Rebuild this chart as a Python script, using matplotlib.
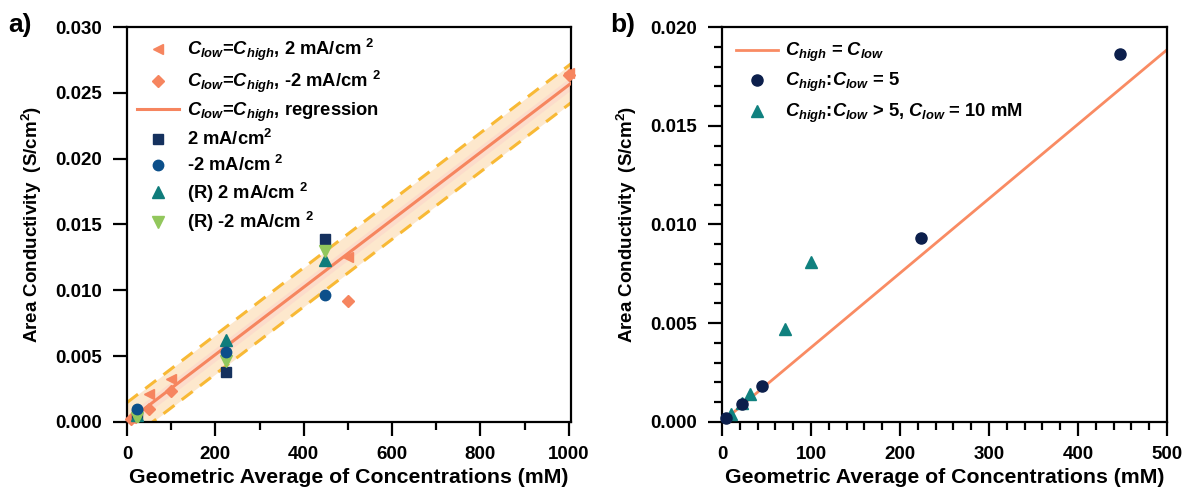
import numpy as np
import matplotlib
matplotlib.use("Agg")
import matplotlib.pyplot as plt
from matplotlib.ticker import MultipleLocator, FormatStrFormatter

plt.rcParams['font.family'] = ['Liberation Sans', 'DejaVu Sans']
plt.rcParams['font.weight'] = 'bold'
plt.rcParams['mathtext.fontset'] = 'custom'
plt.rcParams['mathtext.rm'] = 'Liberation Sans:bold'
plt.rcParams['mathtext.it'] = 'Liberation Sans:bold:italic'
plt.rcParams['mathtext.bf'] = 'Liberation Sans:bold'

# ---------------- Panel a data ----------------
eq_pos_x = [10, 50, 100, 500, 1000]
eq_pos_y = [0.0003, 0.0021, 0.0033, 0.01255, 0.0265]
eq_neg_x = [10, 50, 100, 500, 1000]
eq_neg_y = [0.0002, 0.00096, 0.00238, 0.0092, 0.02637]
reg_slope = 2.56e-5
reg_intercept = 0.0
pred_halfwidth = 0.00148
conf_halfwidth = 0.0005

gm_x = [22.36, 223.6, 447.2]
pos2_y = [0.0006, 0.00378, 0.01388]
neg2_y = [0.00096, 0.00534, 0.00965]
rpos2_y = [0.0005, 0.00623, 0.01231]
rneg2_y = [0.0003, 0.00463, 0.0130]

# ---------------- Panel b data ----------------
line_b_slope = 3.77e-5
ratio5_x = [4.47, 22.36, 44.72, 223.6, 447.2]
ratio5_y = [0.00019, 0.0009, 0.00184, 0.0093, 0.01864]
ratioGT5_x = [10.0, 22.36, 31.62, 70.71, 100.0]
ratioGT5_y = [0.00039, 0.00095, 0.00142, 0.0047, 0.00809]

salmon = '#f6855f'
navy_sq = '#15315e'
blue_c = '#0c4f8a'
teal = '#0f7c7b'
lgreen = '#92c75c'
gold = '#f8b935'
band = '#fde8cd'
inner = '#fcdccb'
navy_b = '#0c1f4c'
teal_b = '#10817f'

fig = plt.figure(figsize=(11.83, 4.92), dpi=100)
axa = fig.add_axes([0.1074, 0.1423, 0.3753, 0.8028])
axb = fig.add_axes([0.6103, 0.1423, 0.3762, 0.8028])

# ---- Panel a ----
xr = np.array([0, 1005])
yr = reg_slope * xr + reg_intercept
axa.fill_between(xr, yr - pred_halfwidth, yr + pred_halfwidth, color=band, lw=0, zorder=1)
axa.fill_between(xr, yr - conf_halfwidth, yr + conf_halfwidth, color=inner, lw=0, zorder=1)
axa.plot(xr, yr + pred_halfwidth, ls=(0, (4.5, 3)), color=gold, lw=2.2, zorder=2)
axa.plot(xr, yr - pred_halfwidth, ls=(0, (4.5, 3)), color=gold, lw=2.2, zorder=2)

h1, = axa.plot(eq_pos_x, eq_pos_y, ls='none', marker='<', ms=7.5, color=salmon, zorder=4, clip_on=False)
h2, = axa.plot(eq_neg_x, eq_neg_y, ls='none', marker='D', ms=6.5, color=salmon, zorder=4, clip_on=False)
h3, = axa.plot(xr, yr, color=salmon, lw=2.2, zorder=3)
h4, = axa.plot(gm_x, pos2_y, ls='none', marker='s', ms=7, color=navy_sq, zorder=4)
h5, = axa.plot(gm_x, neg2_y, ls='none', marker='o', ms=7.5, color=blue_c, zorder=5)
h6, = axa.plot(gm_x, rpos2_y, ls='none', marker='^', ms=8, color=teal, zorder=4)
h7, = axa.plot(gm_x, rneg2_y, ls='none', marker='v', ms=8, color=lgreen, zorder=4)

axa.set_xlim(0, 1005)
axa.set_ylim(0, 0.030)
axa.xaxis.set_major_locator(MultipleLocator(200))
axa.xaxis.set_minor_locator(MultipleLocator(100))
axa.yaxis.set_major_locator(MultipleLocator(0.005))
axa.yaxis.set_major_formatter(FormatStrFormatter('%.3f'))

labels_a = [r'$C_{low}$=$C_{high}$, 2 mA/cm $^{2}$',
            r'$C_{low}$=$C_{high}$, -2 mA/cm $^{2}$',
            r'$C_{low}$=$C_{high}$, regression',
            r'2 mA/cm$^{2}$',
            r'-2 mA/cm $^{2}$',
            r'(R) 2 mA/cm $^{2}$',
            r'(R) -2 mA/cm $^{2}$']
axa.legend([h1, h2, h3, h4, h5, h6, h7], labels_a, loc='upper left', frameon=False,
           fontsize=13.2, handlelength=2.3, labelspacing=0.3, borderaxespad=0.15,
           handletextpad=0.4)

axa.set_xlabel('Geometric Average of Concentrations (mM)', fontsize=15.3, fontweight='bold', labelpad=4)
axa.set_ylabel(r'Area Conductivity  (S/cm$^{2}$)', fontsize=13.5, fontweight='bold', labelpad=8)

# ---- Panel b ----
xb = np.array([0, 500])
hb1, = axb.plot(xb, line_b_slope * xb, color='#f98b63', lw=2.0, zorder=2)
hb2, = axb.plot(ratio5_x, ratio5_y, ls='none', marker='o', ms=8, color=navy_b, zorder=4, clip_on=False)
hb3, = axb.plot(ratioGT5_x, ratioGT5_y, ls='none', marker='^', ms=8, color=teal_b, zorder=3, clip_on=False)

axb.set_xlim(0, 500)
axb.set_ylim(0, 0.020)
axb.xaxis.set_major_locator(MultipleLocator(100))
axb.xaxis.set_minor_locator(MultipleLocator(20))
axb.yaxis.set_major_locator(MultipleLocator(0.005))
axb.yaxis.set_minor_locator(MultipleLocator(0.001))
axb.yaxis.set_major_formatter(FormatStrFormatter('%.3f'))

labels_b = [r'$C_{high}$ = $C_{low}$',
            r'$C_{high}$:$C_{low}$ = 5',
            r'$C_{high}$:$C_{low}$ > 5, $C_{low}$ = 10 mM']
axb.legend([hb1, hb2, hb3], labels_b, loc='upper left', frameon=False,
           fontsize=13.2, handlelength=2.3, labelspacing=0.4, borderaxespad=0.35,
           handletextpad=0.4)

axb.set_xlabel('Geometric Average of Concentrations (mM)', fontsize=15.3, fontweight='bold', labelpad=4)
axb.set_ylabel(r'Area Conductivity  (S/cm$^{2}$)', fontsize=13.5, fontweight='bold', labelpad=8)

for ax in (axa, axb):
    for s in ax.spines.values():
        s.set_linewidth(1.6)
    ax.tick_params(which='major', direction='out', length=10, width=1.6, labelsize=13.5)
    ax.tick_params(axis='y', which='major', pad=8)
    ax.tick_params(axis='x', which='major', pad=7)
    ax.tick_params(which='minor', direction='out', length=6, width=1.6)
    for lab in ax.get_xticklabels() + ax.get_yticklabels():
        lab.set_fontweight('bold')

fig.text(0.007, 0.95, 'a)', fontsize=19, fontweight='bold', va='center')
fig.text(0.516, 0.95, 'b)', fontsize=19, fontweight='bold', va='center')

fig.savefig('out.png', dpi=100)
